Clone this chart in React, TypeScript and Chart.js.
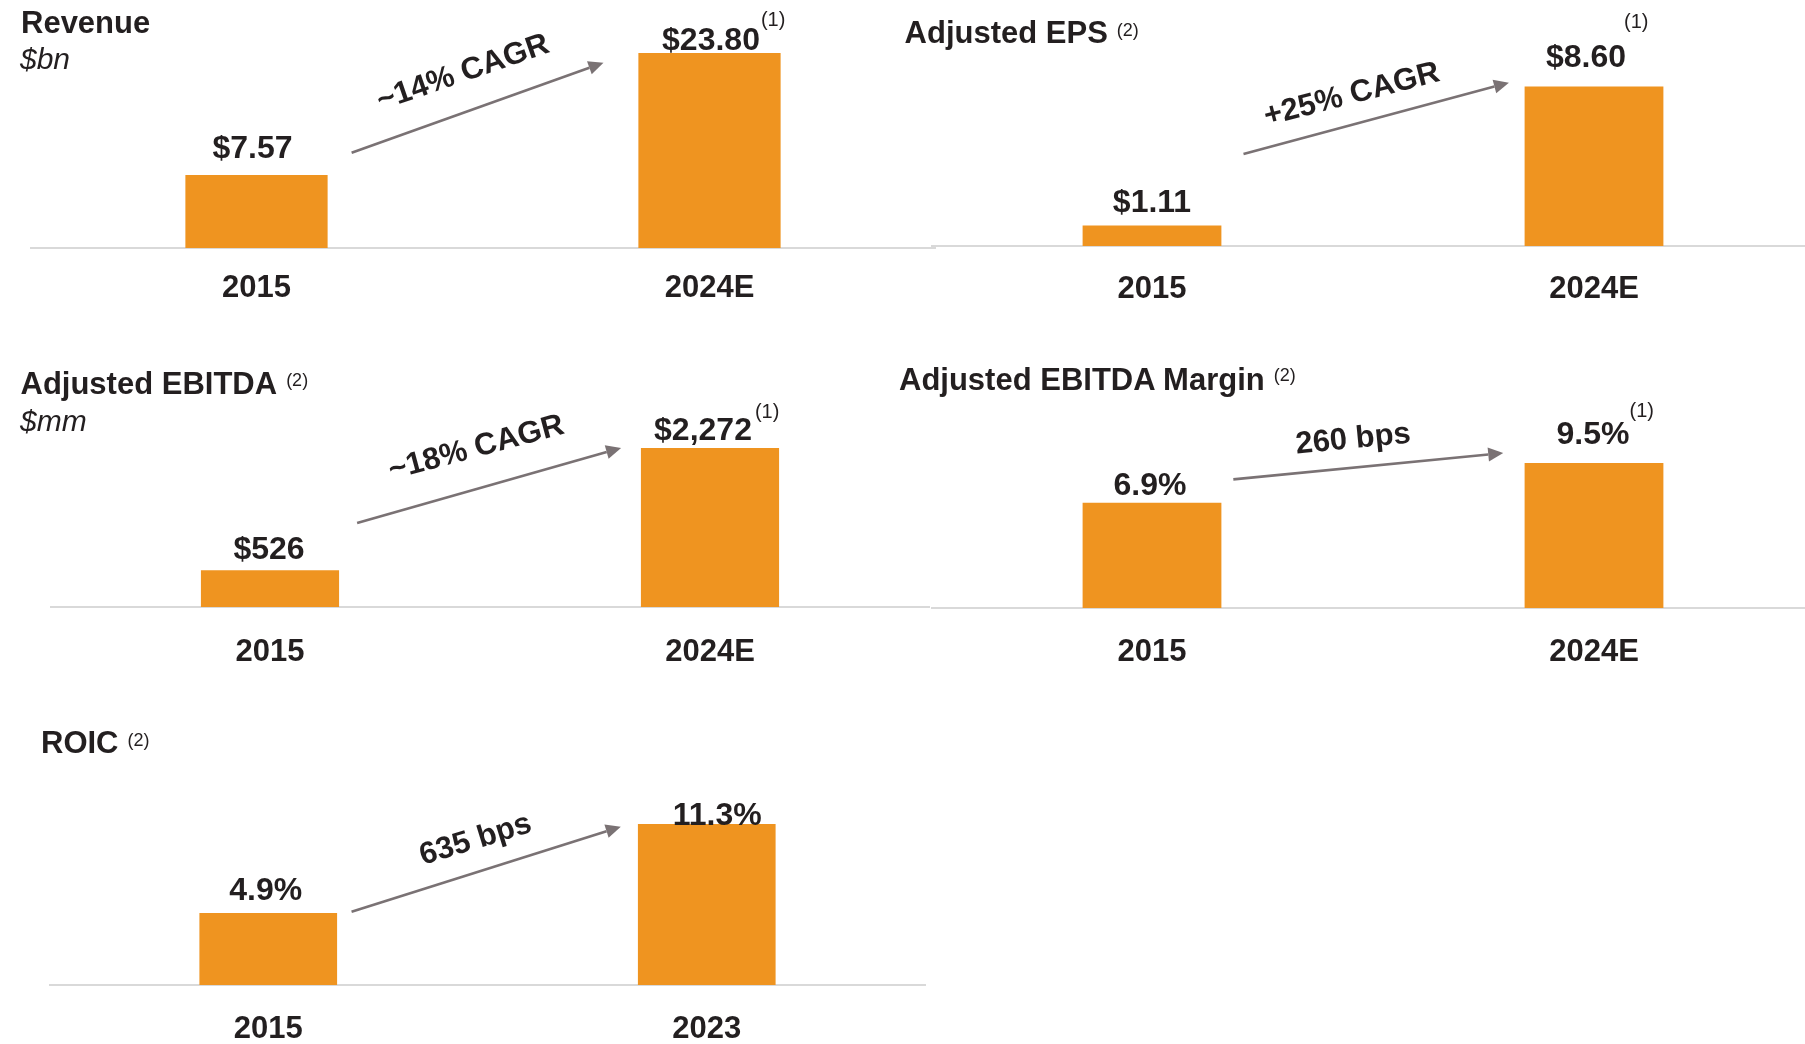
import React, { useEffect, useRef } from 'react';
import { Chart, registerables } from 'chart.js';

Chart.register(...registerables);

const FONT = '"Liberation Sans", Arial, Helvetica, sans-serif';
const TEXT = '#231f20';
const BAR_COLOR = '#ef9420';
const ARROW_COLOR = '#7a7274';
const AXIS_COLOR = '#d9d9d9';
const AXIS_H = 60;

// ---------------- data ----------------
const revenueCategories = ['2015', '2024E'];
const revenueValues = [7.57, 23.8];
const revenueLabels = ['$7.57', '$23.80'];
const revenueNotes = ['', '(1)'];
const revenueGrowth = '~14% CAGR';

const epsCategories = ['2015', '2024E'];
const epsValues = [1.11, 8.6];
const epsLabels = ['$1.11', '$8.60'];
const epsNotes = ['', '(1)'];
const epsGrowth = '+25% CAGR';

const ebitdaCategories = ['2015', '2024E'];
const ebitdaValues = [526, 2272];
const ebitdaLabels = ['$526', '$2,272'];
const ebitdaNotes = ['', '(1)'];
const ebitdaGrowth = '~18% CAGR';

const marginCategories = ['2015', '2024E'];
const marginValues = [6.9, 9.5];
const marginLabels = ['6.9%', '9.5%'];
const marginNotes = ['', '(1)'];
const marginGrowth = '260 bps';

const roicCategories = ['2015', '2023'];
const roicValues = [4.9, 11.3];
const roicLabels = ['4.9%', '11.3%'];
const roicNotes = ['', ''];
const roicGrowth = '635 bps';

// ---------------- layout ----------------
type Layout = {
  left: number; right: number; top: number; chartTop: number; bottom: number;
  yMin: number; yMax: number; tickPad: number;
  labelDx: number[]; labelGap: number[]; noteDx: number[]; noteRise: number[];
  arrowFrom: [number, number]; arrowTo: [number, number];
  growthAt: [number, number]; growthAngle: number;
};

type Panel = {
  categories: string[]; values: number[]; labels: string[]; notes: string[]; growth: string;
  layout: Layout;
};

const panels: Panel[] = [
  {
    categories: revenueCategories, values: revenueValues, labels: revenueLabels, notes: revenueNotes, growth: revenueGrowth,
    layout: {
      left: 30, right: 936, top: 0, chartTop: 36.5, bottom: 248, yMin: -2.14, yMax: 26.0, tickPad: 22.3,
      labelDx: [-4, 1.5], labelGap: [17, 3], noteDx: [0, 1], noteRise: [0, 24],
      arrowFrom: [0.21, 10.54], arrowTo: [0.766, 22.51], growthAt: [0.456, 21.14], growthAngle: -19,
    },
  },
  {
    categories: epsCategories, values: epsValues, labels: epsLabels, notes: epsNotes, growth: epsGrowth,
    layout: {
      left: 931, right: 1815, top: 0, chartTop: 69.7, bottom: 246, yMin: 0, yMax: 9.5, tickPad: 24.8,
      labelDx: [0, -8], labelGap: [13, 19], noteDx: [0, -2], noteRise: [0, 39],
      arrowFrom: [0.207, 4.96], arrowTo: [0.8075, 8.8], growthAt: [0.452, 8.14], growthAngle: -14.5,
    },
  },
  {
    categories: ebitdaCategories, values: ebitdaValues, labels: ebitdaLabels, notes: ebitdaNotes, growth: ebitdaGrowth,
    layout: {
      left: 50, right: 930, top: 330, chartTop: 432, bottom: 607, yMin: 0, yMax: 2500, tickPad: 26.7,
      labelDx: [-1, -7], labelGap: [11, 8], noteDx: [0, 3], noteRise: [0, 22],
      arrowFrom: [0.198, 1200], arrowTo: [0.798, 2272], growthAt: [0.469, 2268], growthAngle: -15,
    },
  },
  {
    categories: marginCategories, values: marginValues, labels: marginLabels, notes: marginNotes, growth: marginGrowth,
    layout: {
      left: 931, right: 1815, top: 330, chartTop: 447.8, bottom: 608, yMin: 0, yMax: 10.5, tickPad: 25.7,
      labelDx: [-2, -1], labelGap: [8, 19], noteDx: [0, 0], noteRise: [0, 27],
      arrowFrom: [0.184, 8.43], arrowTo: [0.7946, 10.16], growthAt: [0.455, 11.04], growthAngle: -5.5,
    },
  },
  {
    categories: roicCategories, values: roicValues, labels: roicLabels, notes: roicNotes, growth: roicGrowth,
    layout: {
      left: 49, right: 926, top: 680, chartTop: 807.3, bottom: 985, yMin: -0.28, yMax: 12.5, tickPad: 25.4,
      labelDx: [-2.5, 10.5], labelGap: [13, -1], noteDx: [0, 0], noteRise: [0, 0],
      arrowFrom: [0.19, 4.99], arrowTo: [0.804, 11.11], growthAt: [0.473, 10.15], growthAngle: -17,
    },
  },
];

type TitleDef = { x: number; base: number; text: string; note?: string; raise?: number; italic?: boolean; size: number };

const titles: TitleDef[] = [
  { x: 21, base: 33, text: 'Revenue', size: 31 },
  { x: 20, base: 69, text: '$bn', size: 30, italic: true },
  { x: 904.6, base: 43, text: 'Adjusted EPS', note: '(2)', raise: 6.5, size: 31 },
  { x: 20.5, base: 394.3, text: 'Adjusted EBITDA', note: '(2)', raise: 8, size: 31 },
  { x: 20, base: 431.7, text: '$mm', size: 30, italic: true },
  { x: 899, base: 390.7, text: 'Adjusted EBITDA Margin', note: '(2)', raise: 9, size: 31 },
  { x: 41, base: 753.3, text: 'ROIC', note: '(2)', raise: 7, size: 31 },
];

function makeDecor(panel: Panel) {
  const L = panel.layout;
  return {
    id: 'panelDecor',
    afterDatasetsDraw(chart: any) {
      const ctx: CanvasRenderingContext2D = chart.ctx;
      const meta = chart.getDatasetMeta(0);
      const xs = chart.scales.x;
      const ys = chart.scales.y;
      ctx.save();
      // value labels
      meta.data.forEach((bar: any, i: number) => {
        const x = bar.x + L.labelDx[i];
        const y = bar.y - L.labelGap[i];
        ctx.font = `bold 32px ${FONT}`;
        ctx.fillStyle = TEXT;
        ctx.textAlign = 'center';
        ctx.textBaseline = 'alphabetic';
        ctx.fillText(panel.labels[i], x, y);
        if (panel.notes[i]) {
          const w = ctx.measureText(panel.labels[i]).width;
          ctx.font = `20px ${FONT}`;
          ctx.textAlign = 'left';
          ctx.fillText(panel.notes[i], x + w / 2 + L.noteDx[i], y - L.noteRise[i]);
        }
      });
      // arrow
      const x1 = xs.getPixelForValue(L.arrowFrom[0]);
      const y1 = ys.getPixelForValue(L.arrowFrom[1]);
      const x2 = xs.getPixelForValue(L.arrowTo[0]);
      const y2 = ys.getPixelForValue(L.arrowTo[1]);
      const ang = Math.atan2(y2 - y1, x2 - x1);
      const headLen = 15;
      const headHalf = 7;
      const bx = x2 - headLen * Math.cos(ang);
      const by = y2 - headLen * Math.sin(ang);
      ctx.strokeStyle = ARROW_COLOR;
      ctx.fillStyle = ARROW_COLOR;
      ctx.lineWidth = 2.6;
      ctx.beginPath();
      ctx.moveTo(x1, y1);
      ctx.lineTo(bx, by);
      ctx.stroke();
      ctx.beginPath();
      ctx.moveTo(x2, y2);
      ctx.lineTo(bx + headHalf * Math.sin(ang), by - headHalf * Math.cos(ang));
      ctx.lineTo(bx - headHalf * Math.sin(ang), by + headHalf * Math.cos(ang));
      ctx.closePath();
      ctx.fill();
      // growth text
      const tx = xs.getPixelForValue(L.growthAt[0]);
      const ty = ys.getPixelForValue(L.growthAt[1]);
      ctx.translate(tx, ty);
      ctx.rotate((L.growthAngle * Math.PI) / 180);
      ctx.font = `bold 31px ${FONT}`;
      ctx.fillStyle = TEXT;
      ctx.textAlign = 'center';
      ctx.textBaseline = 'middle';
      ctx.fillText(panel.growth, 0, 0);
      ctx.restore();
    },
  };
}

function BarPanel({ panel }: { panel: Panel }) {
  const ref = useRef<HTMLCanvasElement>(null);
  const L = panel.layout;
  const width = L.right - L.left;
  const height = L.bottom - L.top + AXIS_H;
  useEffect(() => {
    const canvas = ref.current;
    if (!canvas) return;
    const chart = new Chart(canvas, {
      type: 'bar',
      data: {
        labels: panel.categories,
        datasets: [
          {
            data: panel.values,
            backgroundColor: BAR_COLOR,
            borderWidth: 0,
            barPercentage: 1,
            categoryPercentage: 0.314,
            base: L.yMin,
          } as any,
        ],
      },
      options: {
        responsive: false,
        maintainAspectRatio: false,
        animation: false,
        devicePixelRatio: 1,
        layout: { padding: { top: L.chartTop - L.top, left: 0, right: 0, bottom: 0 } },
        plugins: {
          legend: { display: false },
          tooltip: { enabled: false },
          title: { display: false },
        },
        scales: {
          x: {
            grid: { display: false, drawTicks: false },
            border: { display: true, color: AXIS_COLOR, width: 2 },
            ticks: {
              color: TEXT,
              font: { family: FONT, size: 31, weight: 'bold', lineHeight: 1.2 },
              padding: L.tickPad,
              maxRotation: 0,
              autoSkip: false,
            },
            afterFit: (s: any) => {
              s.height = AXIS_H;
            },
          },
          y: { display: false, min: L.yMin, max: L.yMax },
        },
      } as any,
      plugins: [makeDecor(panel)],
    });
    return () => chart.destroy();
  }, []);
  return (
    <canvas
      ref={ref}
      width={width}
      height={height}
      style={{ position: 'absolute', left: L.left, top: L.top, width, height }}
    />
  );
}

function Title({ t }: { t: TitleDef }) {
  return (
    <div
      style={{
        position: 'absolute',
        left: t.x,
        top: t.base - 0.8465 * t.size,
        fontFamily: FONT,
        fontSize: t.size,
        fontWeight: t.italic ? 'normal' : 'bold',
        fontStyle: t.italic ? 'italic' : 'normal',
        lineHeight: `${t.size}px`,
        color: TEXT,
        whiteSpace: 'nowrap',
      }}
    >
      {t.text}
      {t.note ? (
        <span style={{ fontSize: 18, fontWeight: 'normal', position: 'relative', top: -(t.raise || 0), marginLeft: 9 }}>
          {t.note}
        </span>
      ) : null}
    </div>
  );
}

export default function App() {
  return (
    <div
      style={{
        position: 'absolute',
        left: 0,
        top: 0,
        width: 1805,
        height: 1044,
        overflow: 'hidden',
        background: '#ffffff',
      }}
    >
      {panels.map((p, i) => (
        <BarPanel key={i} panel={p} />
      ))}
      {titles.map((t, i) => (
        <Title key={i} t={t} />
      ))}
    </div>
  );
}
